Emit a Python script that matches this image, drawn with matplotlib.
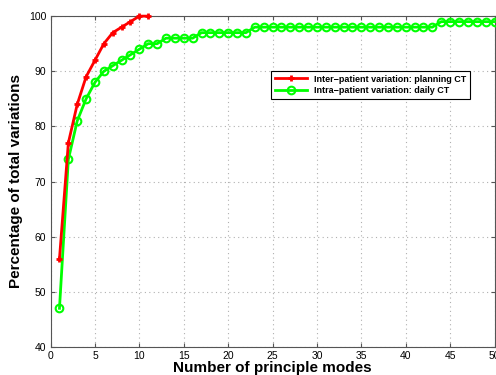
import numpy as np
import matplotlib
matplotlib.use('Agg')
import matplotlib.pyplot as plt

plt.rcParams['font.family'] = ['Liberation Sans', 'DejaVu Sans']

# inter-patient (planning CT)
modes_inter = list(range(1, 12))
pct_inter = [56, 77, 84, 89, 92, 95, 97, 98, 99, 100, 100]

# intra-patient (daily CT)
modes_intra = list(range(1, 51))
pct_intra = [47, 74, 81, 85, 88, 90, 91, 92, 93, 94,
             95, 95, 96, 96, 96, 96, 97, 97, 97, 97,
             97, 97, 98, 98, 98, 98, 98, 98, 98, 98,
             98, 98, 98, 98, 98, 98, 98, 98, 98, 98,
             98, 98, 98, 99, 99, 99, 99, 99, 99, 99]

fig = plt.figure(figsize=(4.96, 3.75), dpi=100)
ax = fig.add_axes([0.102, 0.075, 0.895, 0.882])

ax.plot(modes_inter, pct_inter, '-+', color=(1, 0, 0), linewidth=2,
        markersize=5, markeredgewidth=2, clip_on=False, zorder=4,
        label='Inter\u2212patient variation: planning CT')
ax.plot(modes_intra, pct_intra, '-o', color=(0, 1, 0), linewidth=2,
        markersize=5.5, markeredgewidth=1.5, markerfacecolor='none', clip_on=False,
        zorder=3, label='Intra\u2212patient variation: daily CT')

ax.set_xlim(0, 50)
ax.set_ylim(40, 100)
ax.set_xticks(range(0, 51, 5))
ax.set_yticks(range(40, 101, 10))
ax.tick_params(direction='in', top=True, right=True, labelsize=7.5, length=3,
               color='#555555', pad=3)
for s in ax.spines.values():
    s.set_color('#555555')
ax.grid(color='#b0b0b0', linestyle=(0, (1, 3)), linewidth=0.8)

ax.set_xlabel('Number of principle modes', fontsize=11, fontweight='bold', labelpad=0)
ax.set_ylabel('Percentage of total variations', fontsize=11, fontweight='bold')

leg = ax.legend(loc='upper left', bbox_to_anchor=(0.487, 0.848),
                prop={'weight': 'bold', 'size': 6.5}, fancybox=False, framealpha=1,
                edgecolor='black', borderpad=0.4, handlelength=3.5, labelspacing=0.3)
leg.get_frame().set_linewidth(0.8)

fig.savefig('out.png', dpi=100)
